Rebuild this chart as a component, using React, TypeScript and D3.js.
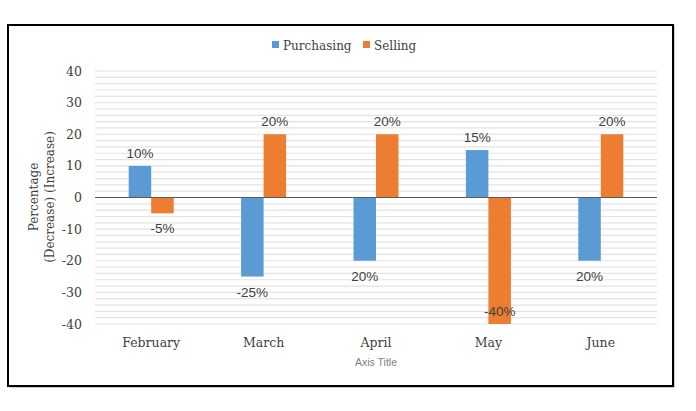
import React from "react";
import * as d3 from "d3";

const categories = ["February", "March", "April", "May", "June"];
const seriesNames = ["Purchasing", "Selling"];
const purchasing = [10, -25, -20, 15, -20];
const selling = [-5, 20, 20, -40, 20];
const purchasingLabels = ["10%", "-25%", "20%", "15%", "20%"];
const sellingLabels = ["-5%", "20%", "20%", "-40%", "20%"];
const yTicks = [40, 30, 20, 10, 0, -10, -20, -30, -40];
const colors = ["#5b9bd5", "#ed7d31"];

const W = 696;
const H = 411;
const serif = "'DejaVu Serif', 'Liberation Serif', serif";
const sans = "'Liberation Sans', Arial, sans-serif";

export default function App() {
  const x = d3.scaleBand<string>().domain(categories).range([95, 657]).padding(0);
  const y = d3.scaleLinear().domain([-40, 40]).range([324, 71]);
  const barW = 22.5;
  const sub = d3
    .scaleBand<string>()
    .domain(seriesNames)
    .range([-barW, barW])
    .padding(0);
  const minorTicks = d3.range(-40, 41, 2);
  const values = [purchasing, selling];
  const labels = [purchasingLabels, sellingLabels];

  return (
    <div style={{ position: "absolute", left: 0, top: 0 }}>
      <svg width={W} height={H} style={{ display: "block", background: "#fff" }}>
        <rect x={9} y={25} width={664} height={361} fill="none" stroke="#9a9a9a" strokeWidth={1} transform="translate(1,1)" />
        <rect x={8} y={25} width={665} height={361} fill="#fff" stroke="#000" strokeWidth={2} />
        {/* gridlines */}
        {minorTicks.map((t) => (
          <line key={t} x1={95} x2={657} y1={y(t)} y2={y(t)} stroke="#e3e3e3" strokeWidth={1.2} />
        ))}
        {/* bars */}
        {values.map((vals, si) =>
          vals.map((v, i) => {
            const cx = (x(categories[i]) as number) + x.bandwidth() / 2;
            const bx = cx + (sub(seriesNames[si]) as number);
            const y0 = y(Math.max(0, v));
            const h = Math.abs(y(v) - y(0));
            return (
              <rect key={`${si}-${i}`} x={bx} y={y0} width={sub.bandwidth()} height={h} fill={colors[si]} />
            );
          })
        )}
        {/* zero line */}
        <line x1={95} x2={657} y1={y(0)} y2={y(0)} stroke="#595959" strokeWidth={1} />
        {/* data labels */}
        {values.map((vals, si) =>
          vals.map((v, i) => {
            const cx =
              (x(categories[i]) as number) + x.bandwidth() / 2 + (sub(seriesNames[si]) as number) + sub.bandwidth() / 2;
            let ly = v >= 0 ? y(v) - 8 : y(v) + 20;
            if (ly > y(-40) - 8) ly = y(-40) - 8;
            return (
              <text key={`l-${si}-${i}`} x={cx} y={ly} textAnchor="middle" fontFamily={sans} fontSize={13.5} fill="#404040">
                {labels[si][i]}
              </text>
            );
          })
        )}
        {/* y ticks */}
        {yTicks.map((t) => (
          <text key={t} x={82} y={y(t) + 4.5} textAnchor="end" fontFamily={serif} fontSize={12.5} fill="#404040">
            {t}
          </text>
        ))}
        {/* category labels */}
        {categories.map((c) => (
          <text
            key={c}
            x={(x(c) as number) + x.bandwidth() / 2}
            y={347}
            textAnchor="middle"
            fontFamily={serif}
            fontSize={12.5}
            fill="#404040"
          >
            {c}
          </text>
        ))}
        {/* axis titles */}
        <text x={376} y={366} textAnchor="middle" fontFamily={sans} fontSize={10.5} fill="#7f7f7f">
          Axis Title
        </text>
        <g transform="translate(38,197) rotate(-90)">
          <text x={0} y={0} textAnchor="middle" fontFamily={serif} fontSize={12} fill="#404040">
            Percentage
          </text>
          <text x={0} y={16} textAnchor="middle" fontFamily={serif} fontSize={12} fill="#404040">
            (Decrease) (Increase)
          </text>
        </g>
        {/* legend */}
        {seriesNames.map((s, i) => {
          const lx = i === 0 ? 272 : 363;
          return (
            <g key={s}>
              <rect x={lx} y={41} width={7} height={7} fill={colors[i]} />
              <text x={lx + 11} y={49.5} fontFamily={serif} fontSize={12} fill="#404040">
                {s}
              </text>
            </g>
          );
        })}
      </svg>
    </div>
  );
}
